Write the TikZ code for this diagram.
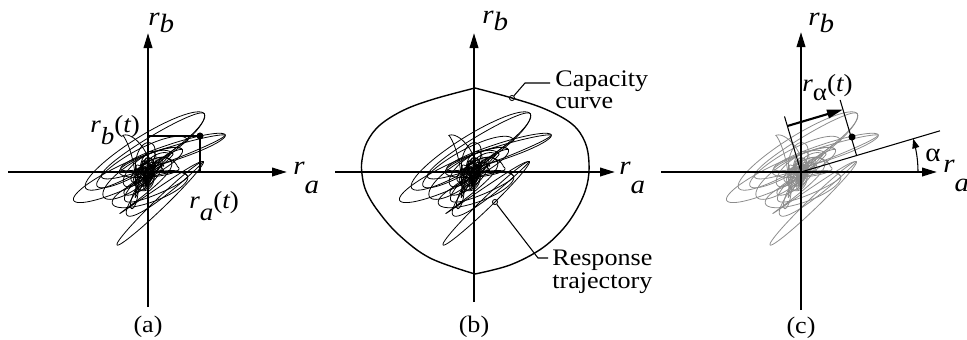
\documentclass[tikz,border=0pt]{standalone}
\usepackage{fontspec}
\setmainfont{Liberation Serif}[FakeStretch=1.1]
\usetikzlibrary{arrows.meta}
\tikzset{
  axis/.style={line width=1.2pt,-{Triangle[length=3mm,width=1.7mm]}},
  dimarrow/.style={line width=1.2pt,-{Triangle[length=3.2mm,width=1.7mm]}},
  arcarrow/.style={line width=0.6pt,-{Triangle[length=1.9mm,width=1.4mm]}},
  trajline/.style={line width=0.45pt,line cap=round,line join=round},
  thinline/.style={line width=0.6pt},
  capcurve/.style={line width=0.8pt},
  leader/.style={line width=0.6pt},
  dotmark/.style={circle,fill=black,inner sep=0pt,minimum size=4pt},
  ringmark/.style={circle,draw,line width=0.5pt,inner sep=0pt,minimum size=2.9pt},
  axlbl/.style={inner sep=0pt,anchor=base west,font=\fontsize{15}{15}\selectfont\itshape},
  tlbl/.style={inner sep=0pt,anchor=base west,font=\fontsize{14}{14}\selectfont\itshape},
  caplbl/.style={inner sep=0pt,font=\fontsize{13.5}{15}\selectfont},
  note/.style={inner sep=0pt,anchor=north west,align=left,font=\fontsize{13.5}{13}\selectfont}
}
\newcommand\lo[2]{\raisebox{-#1}{#2}}
\newcommand\tset[5]{\def\Ta{#1}\def\Tb{#2}\def\Tr{#3}\def\Tx{#4}\def\Ty{#5}}
\newcommand\tnext[5]{%
  \draw[trajline] plot[domain=0:1,samples=61,variable=\s]
  ({(\Tx)+((#4)-(\Tx))*\s + ((\Ta)+((#1)-(\Ta))*\s)*cos(360*\s)*cos((\Tr)+((#3)-(\Tr))*\s) - ((\Tb)+((#2)-(\Tb))*\s)*sin(360*\s)*sin((\Tr)+((#3)-(\Tr))*\s)},
   {(\Ty)+((#5)-(\Ty))*\s + ((\Ta)+((#1)-(\Ta))*\s)*cos(360*\s)*sin((\Tr)+((#3)-(\Tr))*\s) + ((\Tb)+((#2)-(\Tb))*\s)*sin(360*\s)*cos((\Tr)+((#3)-(\Tr))*\s)});
  \tset{#1}{#2}{#3}{#4}{#5}}
\newcommand\trajectory{%
  \tset{3}{2}{30}{0}{0}%
  \tnext{7}{3}{60}{1}{1}%
  \tnext{5}{3}{150}{-1}{0}%
  \tnext{13}{5}{10}{-2}{0}%
  \tnext{9}{5}{80}{0}{3}%
  \tnext{8}{3}{170}{-3}{0}%
  \tnext{20}{6}{20}{-3}{-1}%
  \tnext{16}{7}{65}{-2}{6}%
  \tnext{11}{4}{120}{0}{1}%
  \tnext{27}{8}{35}{0}{2}%
  \tnext{14}{5}{100}{2}{0}%
  \tnext{34}{10}{28}{-5}{2}%
  \tnext{20}{7}{70}{-4}{10}%
  \tnext{30}{8}{125}{-8}{12}%
  \tnext{45}{12}{28}{0}{10}%
  \tnext{70}{15}{32}{-3}{21}%
  \tnext{70}{15}{32}{-3}{21}%
  \tnext{55}{8.3}{18}{25}{20}%
  \tnext{55}{8.3}{18}{25}{20}%
  \tnext{30}{10}{10}{0}{0}%
  \tnext{9}{4}{140}{0}{0}%
  \tnext{60}{12}{25}{-20}{-3}%
  \tnext{60}{12}{25}{-20}{-3}%
  \tnext{20}{6}{50}{0}{-2}%
  \tnext{40}{12}{20}{2}{-18}%
  \tnext{40}{12}{20}{2}{-18}%
  \tnext{15}{5}{40}{0}{0}%
  \tnext{60}{5.2}{44}{12.2}{-31.3}%
  \tnext{60}{5.2}{44}{12.2}{-31.3}%
  \tnext{25}{8}{30}{0}{0}%
  \tnext{12}{6}{75}{-2}{2}%
  \tnext{7}{3}{160}{0}{0}%
  \tnext{18}{5}{10}{-2}{-2}%
  \tnext{10}{5}{130}{0}{0}%
  \tnext{6}{3}{60}{1}{0}%
  \tnext{8}{4}{40}{0}{0}%
  \tnext{4}{2}{110}{0}{0}%
  \tnext{5}{2}{20}{0}{0}%
}
\begin{document}
\begin{tikzpicture}[x=0.02cm,y=-0.02cm]
\useasboundingbox (0,0) rectangle (967,339);

% ---------- panel (a)
\coordinate (aO) at (148,172);
\coordinate (aL) at (8,172);   \coordinate (aR) at (287,172);
\coordinate (aB) at (148,307); \coordinate (aT) at (148,33);
\begin{scope}[shift={(aO)},yscale=-1]
  \trajectory
\end{scope}
\draw[axis] (aL) -- (aR);
\draw[axis] (aB) -- (aT);
\coordinate (ay) at (148,136);
\coordinate (ax) at (200,172);
\node[dotmark] (adot) at (200,136) {};
\draw[thinline] (ay) -- (adot.center) -- (ax);
\node[axlbl] (arb) at (148,25) {r\lo{0.3em}{b}};
\node[axlbl] (ara) at (293,174) {r\lo{0.75em}{a}};
\node[tlbl] (arbt) at (90,132) {r\lo{0.5em}{b}\upshape(\itshape t\upshape)};
\node[tlbl] (arat) at (189,208) {r\lo{0.5em}{a}\upshape(\itshape t\upshape)};
\node[caplbl] (capa) at (148,327) {(a)};

% ---------- panel (b)
\coordinate (bO) at (474,172);
\coordinate (bL) at (335,172); \coordinate (bR) at (615,172);
\coordinate (bB) at (474,302); \coordinate (bT) at (474,33);
\begin{scope}[shift={(bO)},yscale=-1]
  \trajectory
\end{scope}
\draw[capcurve] plot[smooth,tension=0.6] coordinates {(475,88) (512,98) (545,109) (572,124) (585,142) (589,163) (587,185) (578,207) (563,229) (541,249) (510,265) (475,274)};
\draw[capcurve] plot[smooth,tension=0.6] coordinates {(475,88) (434,99) (404,110) (380,125) (367,142) (362,160) (362,174) (366,191) (378,211) (399,235) (430,258) (475,274)};
\draw[axis] (bL) -- (bR);
\draw[axis] (bB) -- (bT);
\node[axlbl] (brb) at (482,23) {r\lo{0.3em}{b}};
\node[axlbl] (bra) at (619,174) {r\lo{0.75em}{a}};
\node[ringmark] (capring) at (512,98) {};
\coordinate (capknee) at (525,83);
\coordinate (capend) at (550,83);
\draw[leader] (capring) -- (capknee) -- (capend);
\node[note] (captxt) at (555,70) {Capacity\\curve};
\node[ringmark] (respring) at (495,202) {};
\coordinate (respknee) at (538,258);
\coordinate (respend) at (548,258);
\draw[leader] (respring) -- (respknee) -- (respend);
\node[note] (resptxt) at (552,250) {Response\\trajectory};
\node[caplbl] (capb) at (474,327) {(b)};

% ---------- panel (c)
\coordinate (cO) at (801,172);
\coordinate (cL) at (661,172); \coordinate (cR) at (937,172);
\coordinate (cB) at (801,310); \coordinate (cT) at (801,32);
\begin{scope}[shift={(cO)},yscale=-1,black!45]
  \trajectory
\end{scope}
\draw[axis] (cL) -- (cR);
\draw[axis] (cB) -- (cT);
\coordinate (cE) at (940,130.8);
\coordinate (cF) at (856.6,155.5);
\coordinate (cP1) at (784.5,116.4);
\coordinate (cP2) at (840.1,99.9);
\coordinate (cD1) at (787.4,126.0);
\coordinate (cD2) at (843.0,109.5);
\draw[thinline] (cO) -- (cE);
\draw[thinline] (cO) -- (cP1);
\draw[thinline] (cF) -- (cP2);
\draw[dimarrow] (cD1) -- (cD2);
\node[dotmark] (cdot) at (852,137) {};
\draw[arcarrow] plot[domain=0:16.5,samples=20] ({801+117*cos(\x)},{172-117*sin(\x)});
\node[inner sep=0pt,anchor=base west,font=\fontsize{15}{15}\selectfont] (calpha) at (925,161) {α};
\node[tlbl,font=\fontsize{14}{14}\selectfont\itshape] (crat) at (802,91) {r\lo{0.4em}{\upshape α}\upshape(\itshape t\upshape)};
\node[axlbl] (crb) at (808,25) {r\lo{0.3em}{b}};
\node[axlbl] (cra) at (943,172) {r\lo{0.75em}{a}};
\node[caplbl] (capc) at (801,328) {(c)};
\end{tikzpicture}
\end{document}
